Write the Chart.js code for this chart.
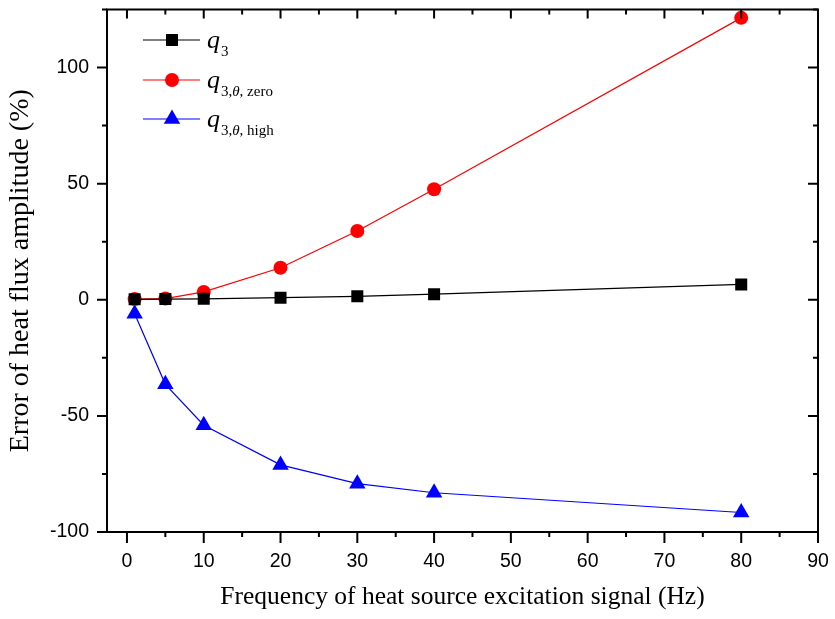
<!DOCTYPE html>
<html>
<head>
<meta charset="utf-8">
<script src="https://cdn.jsdelivr.net/npm/chart.js@4.4.0/dist/chart.umd.min.js"></script>
<style>
  html, body { margin: 0; padding: 0; background: #fff; }
  #wrap { width: 835px; height: 619px; }
</style>
</head>
<body>
<div id="wrap"><canvas id="heat_chart"></canvas></div>
<script>
// frequency of excitation signal (Hz)
var freqs = [1, 5, 10, 20, 30, 40, 80];
// error of heat flux amplitude (%)
var q3 = [0.2, 0.3, 0.4, 0.9, 1.5, 2.4, 6.6];
var q3Zero = [0.3, 0.5, 3.4, 13.8, 29.6, 47.6, 121.4];
var q3High = [-6, -36.4, -54, -71.1, -79.2, -83.1, -91.6];

var xTicks = [0, 10, 20, 30, 40, 50, 60, 70, 80, 90];
var yTicks = [-100, -50, 0, 50, 100];

function toPoints(ys) {
    return freqs.map(function(f, i) { return {x: f, y: ys[i]}; });
}

var seriesStyle = [
    {label: 'q3', sub: '3', color: '#000000', point: 'rect', radius: 8.5},
    {label: 'q3zero', sub: 'zero', color: '#ff0000', point: 'circle', radius: 7},
    {label: 'q3high', sub: 'high', color: '#0000ff', point: 'triangle', radius: 9.5}
];
var seriesData = [q3, q3Zero, q3High];

var datasets = seriesData.map(function(d, i) {
    var s = seriesStyle[i];
    return {
        label: s.label,
        data: toPoints(d),
        borderColor: s.color,
        backgroundColor: s.color,
        borderWidth: 1.2,
        pointStyle: s.point,
        pointRadius: s.radius,
        pointBorderWidth: 0,
        pointBackgroundColor: s.color,
        fill: false,
        tension: 0
    };
});

// frame, minor + major ticks on all four sides
var framePlugin = {
    id: 'frame',
    afterDraw: function(chart) {
        var ctx = chart.ctx, a = chart.chartArea;
        var xs = chart.scales.x, ys = chart.scales.y;
        ctx.save();
        ctx.strokeStyle = '#000';
        ctx.lineWidth = 2;
        ctx.strokeRect(a.left, a.top, a.right - a.left, a.bottom - a.top);
        ctx.beginPath();
        for (var v = 0; v <= 90; v += 5) {
            var px = xs.getPixelForValue(v);
            var major = v % 10 === 0;
            ctx.moveTo(px, a.bottom);
            ctx.lineTo(px, a.bottom + (major ? 11 : 5));
            ctx.moveTo(px, a.top);
            ctx.lineTo(px, a.top + (major ? 9 : 5));
        }
        for (var w = -100; w <= 125; w += 25) {
            var py = ys.getPixelForValue(w);
            var maj = w % 50 === 0;
            ctx.moveTo(a.left, py);
            ctx.lineTo(a.left - (maj ? 10 : 5), py);
            ctx.moveTo(a.right, py);
            ctx.lineTo(a.right - (maj ? 10 : 5), py);
        }
        ctx.stroke();
        ctx.restore();
    }
};

// legend with subscripts
var legendPlugin = {
    id: 'subLegend',
    afterDraw: function(chart) {
        var ctx = chart.ctx;
        var rows = [40, 80, 119];
        ctx.save();
        seriesStyle.forEach(function(s, i) {
            var y = rows[i];
            ctx.strokeStyle = s.color;
            ctx.lineWidth = 1.2;
            ctx.beginPath();
            ctx.moveTo(143, y);
            ctx.lineTo(200, y);
            ctx.stroke();
            ctx.fillStyle = s.color;
            Chart.helpers.drawPoint(ctx, {pointStyle: s.point, radius: s.radius, borderWidth: 0}, 172, y);
            ctx.fillStyle = '#000';
            var x = 207, base = y + 8;
            ctx.textBaseline = 'alphabetic';
            ctx.font = 'italic 26px "Liberation Serif"';
            ctx.fillText('q', x, base);
            x += ctx.measureText('q').width + 1;
            ctx.font = '15px "Liberation Serif"';
            if (i === 0) {
                ctx.fillText('3', x, base + 8);
            } else {
                ctx.fillText('3,', x, base + 8);
                x += ctx.measureText('3,').width;
                ctx.font = 'italic 15px "Liberation Serif"';
                ctx.fillText('\u03b8', x, base + 8);
                x += ctx.measureText('\u03b8').width;
                ctx.font = '15px "Liberation Serif"';
                ctx.fillText(', ' + s.sub, x, base + 8);
            }
        });
        ctx.restore();
    }
};

function noPad(s) {
    s.paddingTop = 0;
    s.paddingBottom = 0;
    s.paddingLeft = 0;
    s.paddingRight = 0;
}

var ctx = document.getElementById('heat_chart').getContext('2d');
new Chart(ctx, {
    type: 'line',
    data: {datasets: datasets},
    options: {
        responsive: true,
        maintainAspectRatio: false,
        animation: false,
        layout: {padding: {left: 0, right: 17, top: 7, bottom: 0}},
        plugins: {legend: {display: false}, tooltip: {enabled: false}},
        scales: {
            x: {
                type: 'linear',
                min: -2.6,
                max: 90,
                grid: {display: false, drawTicks: false},
                border: {display: false},
                afterBuildTicks: function(s) { s.ticks = xTicks.map(function(v) { return {value: v}; }); },
                afterFit: function(s) { s.height = 87; noPad(s); },
                ticks: {
                    color: '#000',
                    padding: 18,
                    maxRotation: 0,
                    font: {family: '"Liberation Sans", Arial', size: 19.5}
                },
                title: {
                    display: true,
                    text: 'Frequency of heat source excitation signal (Hz)',
                    color: '#000',
                    padding: {top: 0, bottom: 6},
                    font: {family: '"Liberation Serif", "Times New Roman"', size: 25.5}
                }
            },
            y: {
                type: 'linear',
                min: -100,
                max: 125,
                grid: {display: false, drawTicks: false},
                border: {display: false},
                afterBuildTicks: function(s) { s.ticks = yTicks.map(function(v) { return {value: v}; }); },
                afterFit: function(s) { s.width = 107; noPad(s); },
                ticks: {
                    color: '#000',
                    padding: 18,
                    font: {family: '"Liberation Sans", Arial', size: 19.5}
                },
                title: {
                    display: true,
                    text: 'Error of heat flux amplitude (%)',
                    color: '#000',
                    padding: {top: 4, bottom: 0},
                    font: {family: '"Liberation Serif", "Times New Roman"', size: 28}
                }
            }
        }
    },
    plugins: [framePlugin, legendPlugin]
});
</script>
</body>
</html>
